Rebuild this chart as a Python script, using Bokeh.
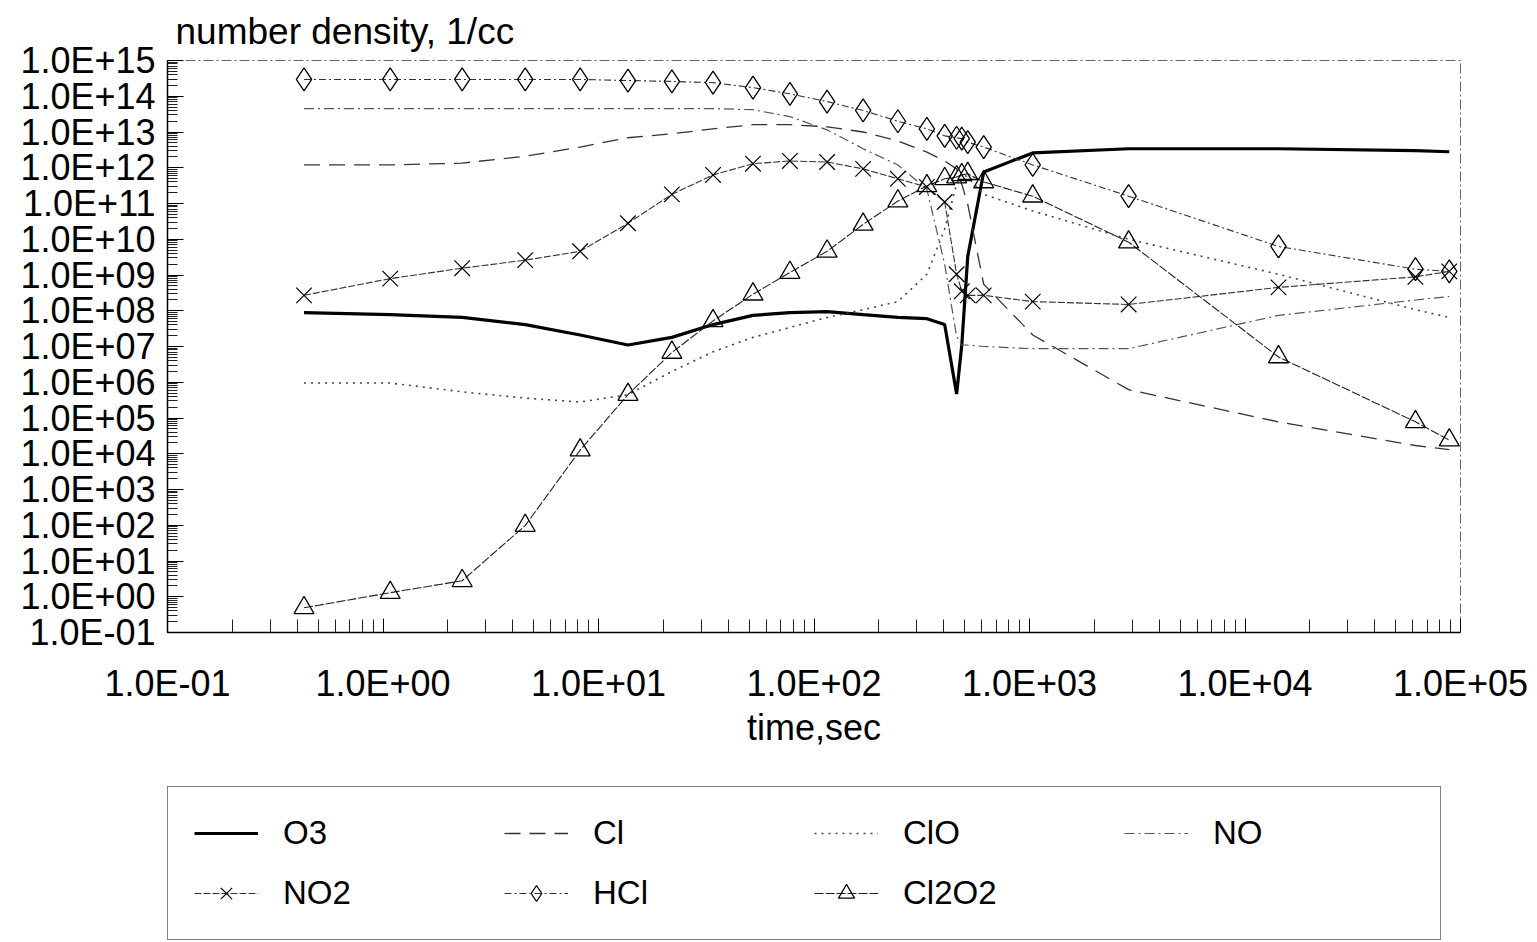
import numpy as np
from bokeh.plotting import figure
from bokeh.layouts import column
from bokeh.models import FixedTicker, Legend, LegendItem, Range1d, CustomJSTickFormatter
from bokeh.embed import file_html
from bokeh.resources import INLINE

# ---------------- data ----------------
time_s = [0.43, 1.08, 2.33, 4.57, 8.22, 13.7, 21.9, 34.0, 52.1, 77.3, 115, 169,
          245, 334, 404, 459, 485, 517, 613, 1035, 2884, 14300, 61800, 88700]

o3 = [8.9e7, 7.8e7, 6.5e7, 4.1e7, 2.1e7, 1.1e7, 1.8e7, 4.1e7, 7.4e7, 8.9e7, 9.5e7, 7.8e7,
      6.5e7, 6.0e7, 4.1e7, 4.7e5, 1.1e7, 3.3e9, 7.6e11, 2.6e12, 3.4e12, 3.4e12, 3.0e12, 2.8e12]

cl = [1.2e12, 1.2e12, 1.35e12, 2.1e12, 3.8e12, 6.9e12, 8.9e12, 1.23e13, 1.6e13, 1.6e13, 1.4e13, 1.0e13,
      5.6e12, 2.75e12, 1.55e12, 9.3e11, 3.5e11, 9.5e10, 5.5e8, 2.1e7, 6.2e5, 7.8e4, 1.7e4, 1.3e4]

clo = [9.5e5, 9.5e5, 5.4e5, 3.6e5, 2.8e5, 4.5e5, 2.0e6, 7.1e6, 1.8e7, 3.4e7, 6.5e7, 1.07e8,
       1.8e8, 1.05e9, 1.9e10, 3.5e11, 6.8e11, 5.5e11, 1.8e11, 6.2e10, 1.0e10, 1.05e9, 1.07e8, 6.5e7]

no = [4.5e13, 4.5e13, 4.5e13, 4.5e13, 4.5e13, 4.5e13, 4.5e13, 4.5e13, 4.2e13, 2.7e13, 1.15e13, 3.4e12,
      1.2e12, 2.5e11, 2.0e9, 1.9e7, 1.1e7, 1.1e7, 1.0e7, 8.7e6, 8.7e6, 7.4e7, 2.0e8, 2.5e8]

no2 = [2.7e8, 7.9e8, 1.55e9, 2.6e9, 4.6e9, 2.8e10, 1.8e11, 6.3e11, 1.3e12, 1.55e12, 1.45e12, 9.3e11,
       4.9e11, 2.9e11, 1.1e11, 1.05e9, 3.5e8, 2.7e8, 2.7e8, 1.8e8, 1.5e8, 4.5e8, 8.9e8, 1.26e9]

hcl = [2.95e14, 2.95e14, 2.95e14, 2.95e14, 2.95e14, 2.75e14, 2.6e14, 2.4e14, 1.74e14, 1.17e14, 7.1e13, 4.0e13,
       2.0e13, 1.23e13, 7.8e12, 6.9e12, 6.5e12, 5.2e12, 3.8e12, 1.2e12, 1.6e11, 6.3e9, 1.45e9, 1.26e9]

cl2o2 = [0.49, 1.3, 2.8, 98, 1.26e4, 4.5e5, 6.8e6, 5.2e7, 2.9e8, 1.17e9, 4.6e9, 2.6e10,
         1.17e11, 3.1e11, 4.9e11, 5.5e11, 6.3e11, 6.8e11, 4.0e11, 1.6e11, 8.3e9, 5.1e6, 7.8e4, 2.4e4]

x_ticks = [1e-1, 1e0, 1e1, 1e2, 1e3, 1e4, 1e5]
x_tick_labels = ["1.0E-01", "1.0E+00", "1.0E+01", "1.0E+02", "1.0E+03", "1.0E+04", "1.0E+05"]
y_ticks = [1e-1, 1e0, 1e1, 1e2, 1e3, 1e4, 1e5, 1e6, 1e7, 1e8, 1e9, 1e10, 1e11, 1e12, 1e13, 1e14, 1e15]
y_tick_labels = ["1.0E-01", "1.0E+00", "1.0E+01", "1.0E+02", "1.0E+03", "1.0E+04", "1.0E+05",
                 "1.0E+06", "1.0E+07", "1.0E+08", "1.0E+09", "1.0E+10", "1.0E+11", "1.0E+12",
                 "1.0E+13", "1.0E+14", "1.0E+15"]

FONT = "Liberation Sans"

# line / marker styles per species
STYLE = {
    "O3":    dict(line=dict(line_color="black", line_width=3.2), marker=None),
    "Cl":    dict(line=dict(line_color="#333333", line_width=1.3, line_dash="16 9"), marker=None),
    "ClO":   dict(line=dict(line_color="#444444", line_width=1.6, line_dash="2 5"), marker=None),
    "NO":    dict(line=dict(line_color="#555555", line_width=1.2, line_dash="10 4 2 4"), marker=None),
    "NO2":   dict(line=dict(line_color="#333333", line_width=1.1, line_dash="7 2"),
                  marker=dict(marker="x", size=22, line_color="black", line_width=1.2)),
    "HCl":   dict(line=dict(line_color="#333333", line_width=1.1, line_dash="7 3 2 3"),
                  marker=dict(marker="diamond", size=23, line_color="black", line_width=1.3, fill_color=None)),
    "Cl2O2": dict(line=dict(line_color="#222222", line_width=1.1, line_dash="9 2"),
                  marker=dict(marker="triangle", size=20, line_color="black", line_width=1.3, fill_color=None)),
}
series = {"O3": o3, "Cl": cl, "ClO": clo, "NO": no, "NO2": no2, "HCl": hcl, "Cl2O2": cl2o2}

# ---------------- main figure ----------------
p = figure(width=1537, height=770, x_axis_type="log", y_axis_type="log",
           x_range=Range1d(0.1, 1e5), y_range=Range1d(0.1, 1e15),
           output_backend="svg", toolbar_location=None,
           min_border_left=167, min_border_right=77, min_border_top=60, min_border_bottom=138)
p.background_fill_color = "white"
p.border_fill_color = "white"
p.grid.visible = False
p.outline_line_color = "#666666"
p.outline_line_width = 1
p.outline_line_dash = "10 3 2 3"

p.title.text = "number density, 1/cc"
p.title.align = "left"
p.title.offset = 8
p.title.standoff = 17
p.title.text_font = FONT
p.title.text_font_size = "37px"
p.title.text_font_style = "normal"
p.title.text_color = "black"

x_minor = [m * 10.0 ** k for k in range(-1, 5) for m in range(2, 10)]
y_minor = [m * 10.0 ** k for k in range(-1, 15) for m in range(2, 10)]

fmt_code = """
const i = tv.findIndex(t => Math.abs(Math.log10(t) - Math.log10(tick)) < 1e-6);
return i >= 0 ? labs[i] : "";
"""
p.xaxis.ticker = FixedTicker(ticks=x_ticks, minor_ticks=x_minor)
p.xaxis.formatter = CustomJSTickFormatter(args=dict(tv=x_ticks, labs=x_tick_labels), code=fmt_code)
p.yaxis.ticker = FixedTicker(ticks=y_ticks, minor_ticks=y_minor)
p.yaxis.formatter = CustomJSTickFormatter(args=dict(tv=y_ticks, labs=y_tick_labels), code=fmt_code)

for ax in (p.xaxis[0], p.yaxis[0]):
    ax.axis_line_color = "black"
    ax.axis_line_width = 1.5
    ax.major_tick_out = 0
    ax.minor_tick_out = 0
    ax.major_tick_line_color = "black"
    ax.minor_tick_line_color = "#222222"
    ax.major_label_text_font = FONT
    ax.major_label_text_font_size = "36px"
    ax.major_label_text_color = "black"

p.xaxis.major_tick_in = 14
p.xaxis.minor_tick_in = 13
p.yaxis.major_tick_in = 16
p.yaxis.minor_tick_in = 10
p.xaxis.major_label_standoff = 30
p.yaxis.major_label_standoff = 12
p.xaxis.axis_label = "time,sec"
p.xaxis.axis_label_text_font = FONT
p.xaxis.axis_label_text_font_size = "36px"
p.xaxis.axis_label_text_font_style = "normal"
p.xaxis.axis_label_text_color = "black"
p.xaxis.axis_label_standoff = 0

for name, vals in series.items():
    st = STYLE[name]
    p.line(time_s, vals, **st["line"])
    if st["marker"] is not None:
        p.scatter(time_s, vals, **st["marker"])

# ---------------- legend strip below the chart ----------------
pl = figure(width=1537, height=172, x_range=Range1d(0, 1), y_range=Range1d(0, 1),
            output_backend="svg", toolbar_location=None,
            x_axis_location=None, y_axis_location=None,
            min_border_left=0, min_border_right=0, min_border_top=0, min_border_bottom=0)
pl.grid.visible = False
pl.outline_line_color = None
pl.background_fill_color = "white"
pl.border_fill_color = "white"

# legend proxies: one NaN sample each, so nothing is plotted but the key swatch is drawn
proxy = np.array([np.nan])
items = []
for name in series:
    st = STYLE[name]
    rs = [pl.line(proxy, proxy, **st["line"])]
    if st["marker"] is not None:
        rs.append(pl.scatter(proxy, proxy, **st["marker"]))
    items.append(LegendItem(label=name, renderers=rs))

legend = Legend(items=items, orientation="horizontal", ncols=4, location=(0, 2),
                glyph_width=64, glyph_height=40, label_standoff=25, label_width=201, label_height=40,
                spacing=20, padding=26, margin=0,
                border_line_color="black", border_line_width=1.5,
                background_fill_color="white", background_fill_alpha=1.0,
                label_text_font=FONT, label_text_font_size="33px", label_text_color="black")
pl.add_layout(legend)

layout = column(p, pl, spacing=0)
open("out.html", "w").write(file_html(layout, INLINE))
